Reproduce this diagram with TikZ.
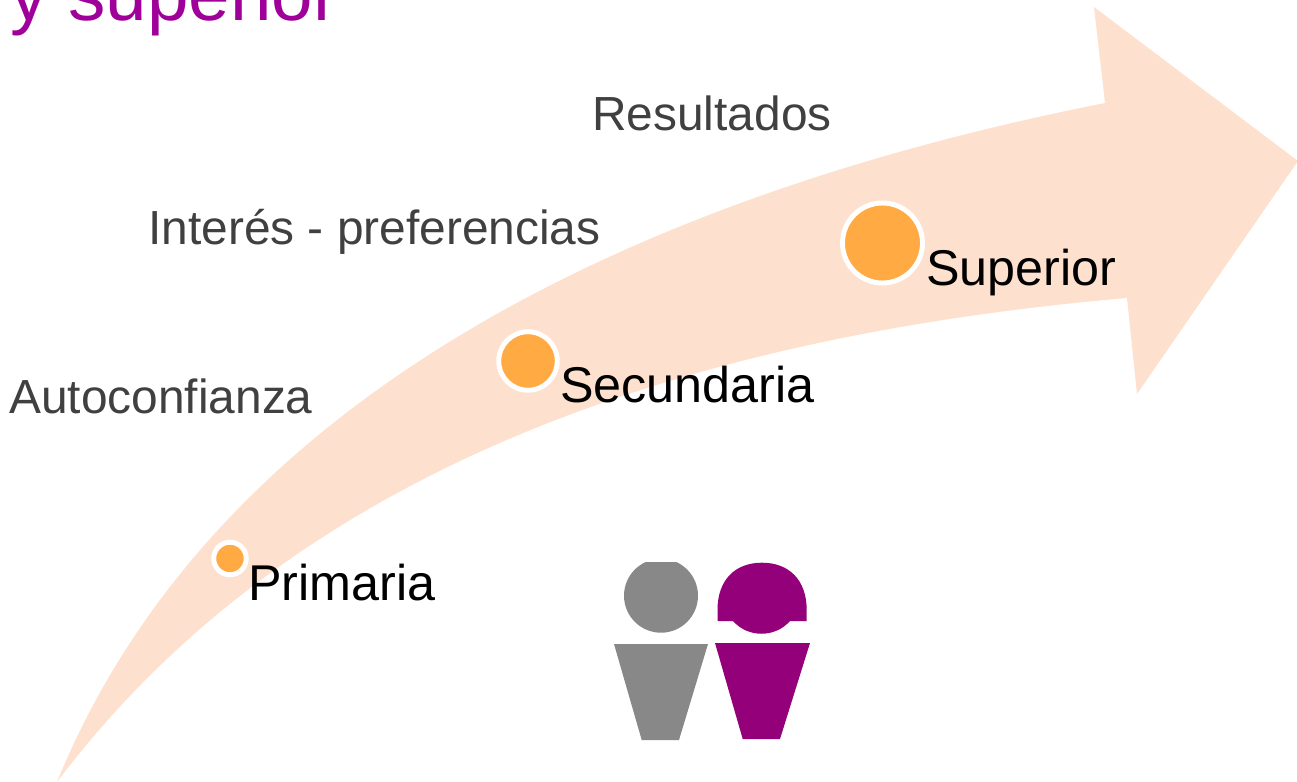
\documentclass[tikz,border=0pt]{standalone}
\usepackage{fontspec}
\setmainfont{Liberation Sans}
\definecolor{band}{HTML}{FDE1CE}
\definecolor{dot}{HTML}{FFAA42}
\definecolor{purp}{HTML}{94007A}
\definecolor{titlep}{HTML}{A0009A}
\definecolor{grayt}{HTML}{404040}
\definecolor{grayp}{HTML}{888888}
\tikzset{
 x=0.75pt,y=-0.75pt,
 stopdot/.style={circle,fill=dot,draw=white,line width=3.7pt,inner sep=0pt},
 lab/.style={anchor=base west,inner sep=0pt,font=\fontsize{37.7}{40}\selectfont,text=black},
 glab/.style={anchor=base west,inner sep=0pt,font=\fontsize{35.9}{36}\selectfont,text=grayt}
}
\begin{document}
\begin{tikzpicture}
\useasboundingbox (0,0) rectangle (1297,782);
\fill[band] (57,782) .. controls (215,395) and (640,195) .. (1105,103) -- (1094,7) -- (1298,161) -- (1137,394) -- (1127,298) .. controls (700,335) and (300,460) .. (57,782) -- cycle;
\node[anchor=base west,inner sep=0pt,text=titlep,font=\fontsize{56}{58}\selectfont] (title) at (10,20) {y superior};
\node[glab] (r) at (592,130) {Resultados};
\node[glab] (i) at (148,244) {Interés - preferencias};
\node[glab] (a) at (9,413) {Autoconfianza};
\node[stopdot,minimum size=24.4pt] (s1) at (230,558.5) {};
\node[stopdot,minimum size=43.9pt] (s2) at (528,361) {};
\node[stopdot,minimum size=60pt] (s3) at (882.5,243) {};
\node[lab] (l1) at (248,600) {Primaria};
\node[lab] (l2) at (560,402) {Secundaria};
\node[lab] (l3) at (926,285) {Superior};
\begin{scope}
\clip (600,562) rectangle (720,640);
\fill[grayp] (661,595.7) circle (37);
\end{scope}
\fill[grayp] (614,644) -- (708,644) -- (679,740) -- (641.7,740) -- cycle;
\fill[purp] (717.5,621) -- (717.5,610) .. controls (717.5,580) and (735,562.7) .. (762,562.7) .. controls (789,562.7) and (806.7,580) .. (806.7,610) -- (806.7,621) -- (790,621) .. controls (775,638) and (748,638) .. (733,621) -- cycle;
\fill[purp] (715,643) -- (810,643) -- (780,739) -- (742.7,739) -- cycle;
\end{tikzpicture}
\end{document}
